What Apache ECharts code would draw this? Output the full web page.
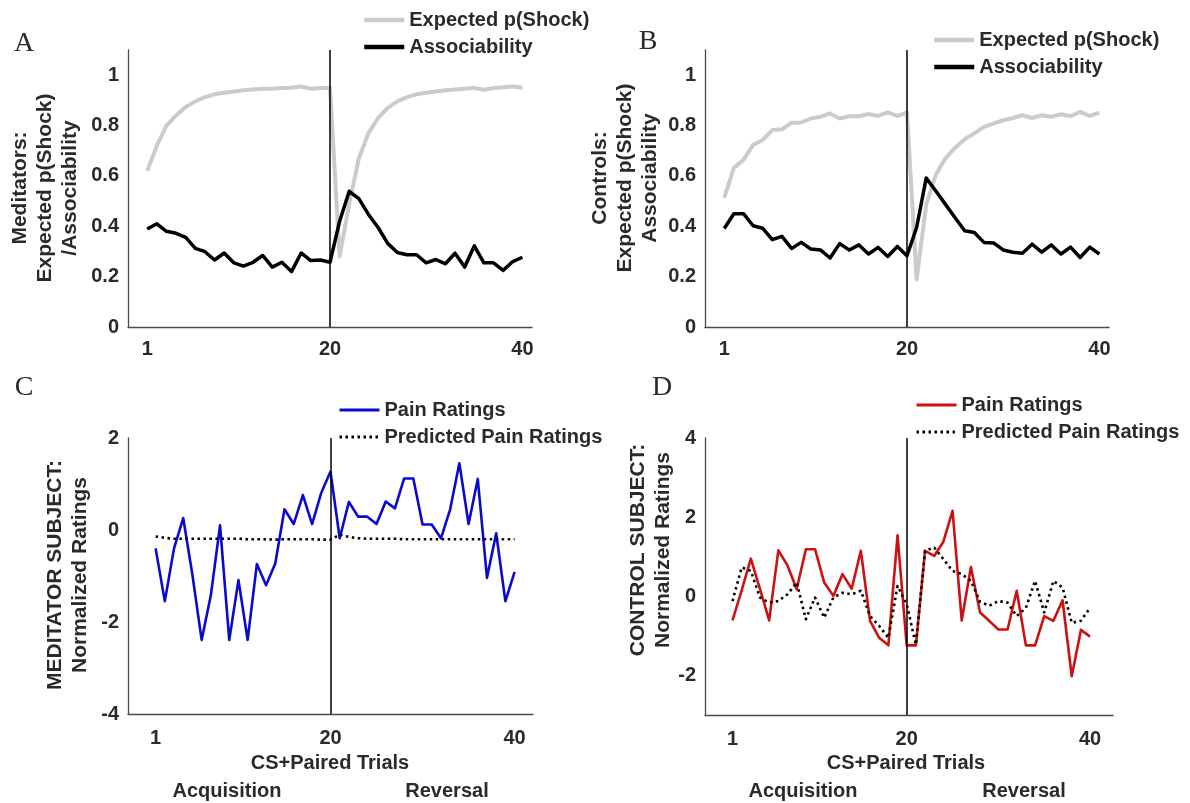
<!DOCTYPE html>
<html>
<head>
<meta charset="utf-8">
<script src="https://cdn.jsdelivr.net/npm/echarts@6/dist/echarts.min.js"></script>
<style>
html,body{margin:0;padding:0;background:#fff;}
#chart{width:1190px;height:803px;}
</style>
</head>
<body>
<div id="chart"></div>
<script>
const trials = [1,2,3,4,5,6,7,8,9,10,11,12,13,14,15,16,17,18,19,20,21,22,23,24,25,26,27,28,29,30,31,32,33,34,35,36,37,38,39,40];
const xTickLabels = [1, 20, 40];
const modelTicks = [0, 0.2, 0.4, 0.6, 0.8, 1];
const controlRatingTicks = [-2, 0, 2, 4];

// Panel A: Meditators
const medExpected = [0.62,0.72,0.80,0.84,0.874,0.896,0.913,0.924,0.930,0.935,0.940,0.943,0.946,0.946,0.949,0.950,0.955,0.946,0.949,0.950,
  0.28,0.49,0.67,0.77,0.83,0.87,0.896,0.913,0.924,0.930,0.935,0.940,0.943,0.946,0.949,0.942,0.949,0.952,0.955,0.950];
const medAssoc = [0.389,0.41,0.38,0.372,0.356,0.312,0.299,0.266,0.294,0.255,0.242,0.257,0.284,0.238,0.257,0.22,0.294,0.264,0.266,0.257,
  0.42,0.539,0.51,0.447,0.395,0.332,0.296,0.287,0.287,0.255,0.268,0.251,0.293,0.238,0.322,0.255,0.255,0.225,0.26,0.277];

// Panel B: Controls
const ctlExpected = [0.513,0.632,0.664,0.723,0.743,0.782,0.785,0.811,0.812,0.828,0.835,0.848,0.828,0.837,0.837,0.846,0.838,0.852,0.838,0.852,
  0.19,0.487,0.605,0.67,0.712,0.746,0.769,0.795,0.808,0.821,0.83,0.841,0.83,0.841,0.835,0.845,0.837,0.854,0.838,0.851];
const ctlAssoc = [0.391,0.45,0.45,0.402,0.392,0.347,0.36,0.312,0.336,0.310,0.306,0.274,0.331,0.306,0.326,0.29,0.316,0.28,0.320,0.283,
  0.395,0.592,0.54,0.487,0.434,0.382,0.375,0.336,0.334,0.306,0.297,0.293,0.329,0.297,0.326,0.29,0.317,0.276,0.317,0.29];

// Panel C: Meditator subject
const medPain = [-0.40,-1.55,-0.40,0.26,-0.98,-2.39,-1.42,0.10,-2.39,-1.09,-2.39,-0.74,-1.20,-0.73,0.45,0.13,0.76,0.13,0.81,1.27,
  -0.18,0.61,0.29,0.29,0.13,0.62,0.47,1.12,1.12,0.12,0.12,-0.18,0.45,1.45,0.13,1.11,-1.04,-0.07,-1.55,-0.91];
const medPred = [-0.14,-0.17,-0.19,-0.19,-0.19,-0.19,-0.19,-0.19,-0.19,-0.19,-0.20,-0.20,-0.20,-0.21,-0.20,-0.20,-0.20,-0.20,-0.21,-0.21,
  -0.10,-0.15,-0.18,-0.19,-0.19,-0.19,-0.19,-0.20,-0.20,-0.20,-0.20,-0.20,-0.20,-0.20,-0.20,-0.20,-0.20,-0.20,-0.20,-0.20];

// Panel D: Control subject
const ctlPain = [-0.61,0.15,0.95,0.18,-0.61,1.16,0.78,0.18,1.19,1.19,0.35,0.01,0.56,0.19,1.15,-0.62,-1.05,-1.24,1.54,-1.24,
  -1.24,1.15,1.02,1.38,2.16,-0.61,0.74,-0.41,-0.62,-0.84,-0.84,0.14,-1.24,-1.24,-0.50,-0.62,-0.10,-2.02,-0.85,-1.02];
const ctlPred = [-0.12,0.73,0.64,-0.03,-0.16,-0.12,0.05,0.35,-0.58,-0.03,-0.54,-0.03,0.09,0.05,0.14,-0.50,-0.75,-1.05,0.26,-0.20,
  -1.22,1.15,1.23,0.94,0.64,0.56,0.39,-0.14,-0.24,-0.12,-0.16,-0.50,-0.29,0.39,-0.41,0.39,0.22,-0.67,-0.62,-0.29];

const FONT = '"Liberation Sans", Arial, Helvetica, sans-serif';
const TXT = '#2a2a2a';
const AXC = '#4a4a4a';

function pairs(vals){ return trials.map((t,i)=>[t, vals[i]]); }

const grids = [
  {left:128, top:50, width:404, height:277},
  {left:705, top:50, width:404, height:277},
  {left:128, top:438, width:405, height:276},
  {left:705, top:438, width:408, height:277}
];

function xAx(i, min, max, margin){
  return {type:'value', gridIndex:i, min:min, max:max,
    axisLine:{show:true, onZero:false, lineStyle:{color:AXC, width:1.3}},
    axisTick:{show:false}, splitLine:{show:false},
    axisLabel:{customValues:xTickLabels, margin:margin, color:TXT, fontFamily:FONT, fontWeight:'bold', fontSize:20}};
}
function yAx(i, min, max, ticks){
  return {type:'value', gridIndex:i, min:min, max:max,
    axisLine:{show:true, onZero:false, lineStyle:{color:AXC, width:1.3}},
    axisTick:{show:false}, splitLine:{show:false},
    axisLabel:{customValues:ticks, margin:9, color:TXT, fontFamily:FONT, fontWeight:'bold', fontSize:20}};
}

const vline = {silent:true, symbol:['none','none'], label:{show:false},
  lineStyle:{color:'#000', width:1.5, type:'solid'}, data:[{xAxis:20}], animation:false};

function line(name, i, vals, color, width, type, withMark){
  const s = {name:name, type:'line', xAxisIndex:i, yAxisIndex:i, data:pairs(vals),
    symbol:'none', showSymbol:false, animation:false,
    lineStyle:{color:color, width:width, type:type||'solid', cap:'butt', join:'round'},
    itemStyle:{color:color}};
  if (withMark) s.markLine = vline;
  return s;
}

const legendText = {color:TXT, fontFamily:FONT, fontWeight:'bold', fontSize:20, lineHeight:20};
function leg(data, left, top, lw){
  return {orient:'vertical', left:left, top:top, itemWidth:40, itemHeight:14, itemGap:7,
    data:data, textStyle:legendText, padding:0, selectedMode:false,
    itemStyle:{opacity:0, borderWidth:0},
    lineStyle:{width:lw}};
}

function vtext(x, y, text){
  return {type:'text', x:x, y:y, rotation:Math.PI/2, silent:true,
    style:{text:text, align:'center', verticalAlign:'middle', fill:TXT,
      font:'bold 21px ' + FONT, lineHeight:25}};
}
function htext(x, y, text, font){
  return {type:'text', x:x, y:y, silent:true,
    style:{text:text, align:'center', verticalAlign:'middle', fill:TXT, font:font || ('bold 20px ' + FONT)}};
}
const letterFont = '28px "Liberation Serif", "Times New Roman", serif';

const option = {
  backgroundColor:'#fff',
  grid: grids,
  xAxis: [xAx(0,-1,41,12), xAx(1,-1,41,12), xAx(2,-2,42,14), xAx(3,-2,42.5,14)],
  yAxis: [yAx(0,0,1.1,modelTicks), yAx(1,0,1.1,modelTicks),
          {type:'value', gridIndex:2, min:-4, max:2, interval:2,
           axisLine:{show:true, onZero:false, lineStyle:{color:AXC, width:1.3}},
           axisTick:{show:false}, splitLine:{show:false},
           axisLabel:{margin:9, color:TXT, fontFamily:FONT, fontWeight:'bold', fontSize:20}},
          yAx(3,-3,4,controlRatingTicks)],
  legend: [
    leg(['Expected p(Shock)','Associability'], 362, 10, 4.5),
    leg(['Expected p(Shock) ','Associability '], 932, 30, 4.5),
    leg(['Pain Ratings','Predicted Pain Ratings'], 338, 400, 3),
    leg(['Pain Ratings ','Predicted Pain Ratings '], 915, 395, 3)
  ],
  series: [
    line('Expected p(Shock)', 0, medExpected, '#cbcbcb', 4, 'solid', true),
    line('Associability', 0, medAssoc, '#000000', 3.5),
    line('Expected p(Shock) ', 1, ctlExpected, '#cbcbcb', 4, 'solid', true),
    line('Associability ', 1, ctlAssoc, '#000000', 3.5),
    line('Pain Ratings', 2, medPain, '#0a0acc', 2.6, 'solid', true),
    line('Predicted Pain Ratings', 2, medPred, '#000000', 2.6, [2.5,3.5]),
    line('Pain Ratings ', 3, ctlPain, '#cc1111', 2.6, 'solid', true),
    line('Predicted Pain Ratings ', 3, ctlPred, '#000000', 2.6, [2.5,3.5])
  ],
  graphic: [
    htext(24, 44, 'A', letterFont),
    htext(648, 42, 'B', letterFont),
    htext(24, 388, 'C', letterFont),
    htext(662, 388, 'D', letterFont),
    vtext(45, 188, 'Meditators:\nExpected p(Shock)\n/Associability'),
    vtext(625, 178, 'Controls:\nExpected p(Shock)\nAssociability'),
    vtext(68, 575, 'MEDITATOR SUBJECT:\nNormalized Ratings'),
    vtext(651, 550, 'CONTROL SUBJECT:\nNormalized Ratings'),
    htext(330, 763, 'CS+Paired Trials'),
    htext(227, 791, 'Acquisition'),
    htext(447, 791, 'Reversal'),
    htext(906, 763, 'CS+Paired Trials'),
    htext(803, 791, 'Acquisition'),
    htext(1024, 791, 'Reversal')
  ]
};

const chart = echarts.init(document.getElementById('chart'), null, {renderer:'canvas'});
chart.setOption(option);
</script>
</body>
</html>
